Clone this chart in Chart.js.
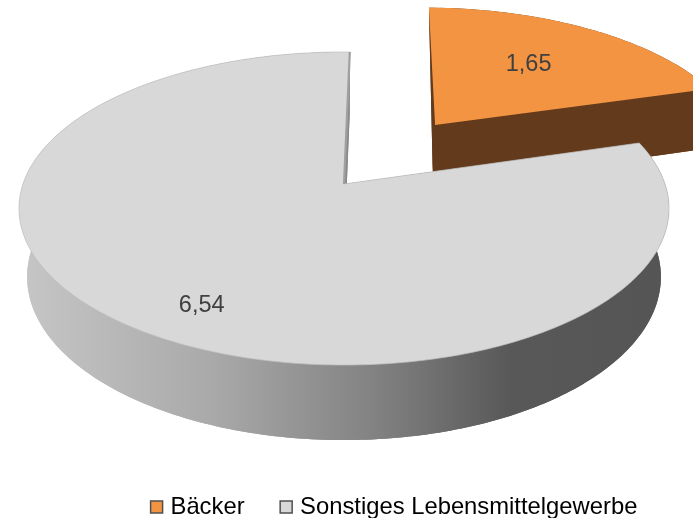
<!DOCTYPE html>
<html>
<head>
<meta charset="utf-8">
<style>
  html, body { margin: 0; padding: 0; background: #fff; }
  #wrap { width: 693px; height: 518px; }
</style>
<script src="https://cdn.jsdelivr.net/npm/chart.js@4"></script>
</head>
<body>
<div id="wrap"><canvas id="myChart" width="693" height="518"></canvas></div>
<script>
// data
const categories = ['Bäcker', 'Sonstiges Lebensmittelgewerbe'];
const values = [1.65, 6.54];
const valueLabels = ['1,65', '6,54'];

// colours
const topColors = ['#f39443', '#d8d8d8'];
const wallColors = ['#633a1b', null];

// camera for the tilted pie, in units of the pie radius
const cam = { x0: 344, y0: 184, a: 152.7, b: 321, c: 69.7, k: -0.1565, m: 0.025 };
const explode = [[0.302, -0.411], [0, 0]];
const depth = [0.95, 1];
const labelAt = [[0.655, -0.888], [-0.394, 0.71]];

function project(u, v, z) {
    const w = 1 + cam.k * v + cam.m * z;
    return { x: cam.x0 + cam.b * u / w, y: cam.y0 + (cam.a * v + cam.c * z) / w };
}

// outer rim of one slice at depth z, sampled from the arc element's angles
function rim(arc, shift, z) {
    const pts = [];
    const steps = Math.ceil((arc.endAngle - arc.startAngle) * 60);
    for (let i = 0; i <= steps; i++) {
        const t = arc.startAngle + (arc.endAngle - arc.startAngle) * i / steps;
        pts.push(project(shift[0] + Math.cos(t), shift[1] + Math.sin(t), z));
    }
    return pts;
}

function poly(ctx, pts) {
    ctx.beginPath();
    pts.forEach((p, i) => i ? ctx.lineTo(p.x, p.y) : ctx.moveTo(p.x, p.y));
    ctx.closePath();
}

function wallStyle(ctx, i) {
    if (wallColors[i]) return wallColors[i];
    const g = ctx.createLinearGradient(20, 0, 665, 0);
    g.addColorStop(0, '#c6c6c6');
    g.addColorStop(0.3, '#a9a9a9');
    g.addColorStop(0.55, '#828282');
    g.addColorStop(0.76, '#585858');
    g.addColorStop(1, '#555555');
    return g;
}

const tiltedPie = {
    id: 'tiltedPie',
    beforeDatasetsDraw(chart) {
        const ctx = chart.ctx;
        const arcs = chart.getDatasetMeta(0).data;
        ctx.save();
        arcs.forEach((arc, i) => {
            const shift = explode[i];
            const apexTop = project(shift[0], shift[1], 0);
            const apexBot = project(shift[0], shift[1], depth[i]);
            const top = rim(arc, shift, 0);
            const bot = rim(arc, shift, depth[i]);

            // the exploded slice shows only a sliver of its left cut face
            ctx.save();
            if (i === 0) {
                poly(ctx, [top[0], { x: chart.width, y: top[0].y }, { x: chart.width, y: chart.height },
                    { x: apexBot.x, y: chart.height }, apexBot]);
                ctx.clip();
            }

            // walls: bottom face, cut faces and the outer strip
            ctx.fillStyle = wallStyle(ctx, i);
            poly(ctx, [apexBot].concat(bot));
            ctx.fill();
            poly(ctx, [apexTop, top[0], bot[0], apexBot]);
            ctx.fill();
            poly(ctx, [apexTop, top[top.length - 1], bot[bot.length - 1], apexBot]);
            ctx.fill();
            poly(ctx, top.concat(bot.slice().reverse()));
            ctx.fill();
            ctx.restore();

            // top face
            ctx.fillStyle = topColors[i];
            poly(ctx, [apexTop].concat(top));
            ctx.fill();

            if (i === 1) {
                ctx.strokeStyle = '#c0c0c0';
                ctx.lineWidth = 0.7;
                poly(ctx, [apexTop].concat(top));
                ctx.stroke();
                ctx.strokeStyle = '#a0a0a0';
                ctx.lineWidth = 2.2;
                ctx.beginPath();
                const edge = top[top.length - 1];
                ctx.moveTo(apexTop.x, apexTop.y);
                ctx.lineTo(edge.x, edge.y);
                ctx.stroke();
            }
        });

        // value labels
        ctx.fillStyle = '#404040';
        ctx.font = '23.5px "Liberation Sans", Arial, sans-serif';
        ctx.textAlign = 'center';
        ctx.textBaseline = 'middle';
        valueLabels.forEach((txt, i) => {
            const p = project(labelAt[i][0], labelAt[i][1], 0);
            ctx.fillText(txt, p.x, p.y);
        });
        ctx.restore();
        return false;
    }
};

const config = {
    type: 'pie',
    data: {
        labels: categories,
        datasets: [{
            data: values,
            backgroundColor: topColors,
            borderWidth: 0
        }]
    },
    options: {
        responsive: false,
        animation: false,
        rotation: 1.2,
        layout: { padding: { left: 99, bottom: -11 } },
        plugins: {
            tooltip: { enabled: false },
            legend: {
                position: 'bottom',
                labels: {
                    usePointStyle: true,
                    pointStyle: 'rect',
                    boxWidth: 4,
                    boxHeight: 12,
                    padding: 39.6,
                    color: '#404040',
                    font: { family: '"Liberation Sans", Arial, sans-serif', size: 23.8 },
                    generateLabels: () => categories.map((name, i) => ({
                        text: name,
                        fillStyle: topColors[i],
                        strokeStyle: '#505050',
                        lineWidth: 1.5,
                        pointStyle: 'rect',
                        datasetIndex: 0,
                        index: i
                    }))
                }
            }
        }
    },
    plugins: [tiltedPie]
};

var myChart = new Chart(document.getElementById('myChart'), config);
</script>
</body>
</html>
